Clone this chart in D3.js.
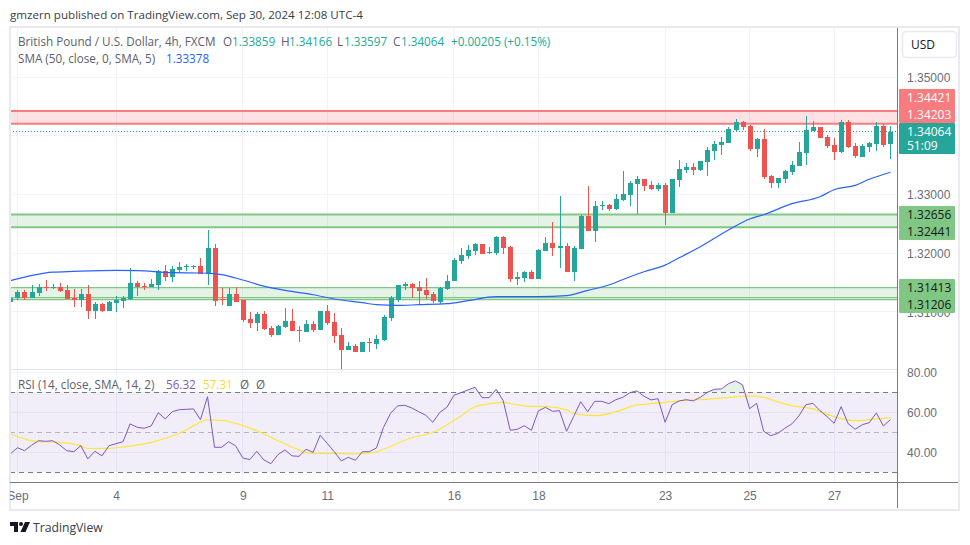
<!DOCTYPE html>
<html>
<head>
<meta charset="utf-8">
<title>GBP/USD 4h</title>
<script src="https://cdn.jsdelivr.net/npm/d3@7"></script>
<style>
  html, body { margin: 0; padding: 0; background: #fff; }
  svg { display: block; font-family: "Open Sans", "Noto Sans", sans-serif; }
  .ax text { fill: #6a6d78; font-size: 12px; }
</style>
</head>
<body>
<div id="chart"></div>
<script>
// candles, oldest first
var opens = [1.31172,1.31235,1.31342,1.31235,1.31325,1.31428,1.31411,1.31428,1.31376,1.31235,1.31206,1.31308,1.31019,1.31138,1.31019,1.31155,1.31189,1.31223,1.31496,1.31445,1.31428,1.31462,1.31700,1.31598,1.31717,1.31768,1.31768,1.31785,1.31649,1.32092,
  1.31223,1.31104,1.31308,1.31194,1.30882,1.30814,1.30968,1.30729,1.30610,1.30746,1.30848,1.30695,1.30661,1.30797,1.30695,1.31019,1.30831,1.30610,1.30354,1.30422,1.30320,1.30491,1.30457,1.30525,1.30900,1.31206,1.31445,1.31479,1.31428,1.31376,
  1.31308,1.31172,1.31393,1.31518,1.31871,1.31956,1.32041,1.32160,1.32007,1.32007,1.32279,1.32109,1.31564,1.31581,1.31683,1.31564,1.32041,1.32177,1.32092,1.32126,1.31683,1.32075,1.32637,1.32382,1.32807,1.32825,1.32756,1.32910,1.32995,1.33182,
  1.33267,1.33165,1.33097,1.33165,1.32688,1.33250,1.33421,1.33472,1.33421,1.33557,1.33744,1.33847,1.33881,1.34102,1.34239,1.34170,1.33779,1.33949,1.33319,1.33199,1.33267,1.33387,1.33489,1.33710,1.34085,1.34153,1.33983,1.33847,1.33727,1.34239,
  1.33830,1.33642,1.33813,1.33864,1.34170,1.33859];
var highs = [1.31359,1.31376,1.31371,1.31462,1.31473,1.31542,1.31473,1.31496,1.31462,1.31393,1.31393,1.31462,1.31172,1.31155,1.31189,1.31274,1.31274,1.31751,1.31530,1.31496,1.31564,1.31717,1.31802,1.31785,1.31853,1.31819,1.31802,1.31922,1.32399,1.32160,
  1.31405,1.31405,1.31428,1.31194,1.31002,1.31002,1.31019,1.30763,1.30780,1.31070,1.31053,1.30763,1.30865,1.30848,1.31019,1.31121,1.30985,1.30729,1.30491,1.30457,1.30491,1.30559,1.30610,1.30951,1.31274,1.31462,1.31513,1.31496,1.31530,1.31581,
  1.31342,1.31428,1.31632,1.31916,1.32087,1.32143,1.32177,1.32160,1.32109,1.32296,1.32296,1.32126,1.31683,1.31700,1.31717,1.32075,1.32279,1.32535,1.32978,1.32177,1.32126,1.32654,1.33148,1.32893,1.32893,1.32842,1.33012,1.33404,1.33233,1.33319,
  1.33267,1.33233,1.33199,1.33199,1.33267,1.33591,1.33540,1.33540,1.33574,1.33813,1.33915,1.33983,1.34153,1.34290,1.34256,1.34187,1.33966,1.34119,1.33336,1.33284,1.33421,1.33574,1.33898,1.34341,1.34256,1.34153,1.34017,1.33966,1.34273,1.34273,
  1.33881,1.33864,1.33898,1.34239,1.34204,1.34166];
var lows = [1.31121,1.31201,1.31201,1.31228,1.31274,1.31359,1.31393,1.31342,1.31223,1.31087,1.31087,1.30882,1.30882,1.31002,1.31019,1.31002,1.31070,1.31201,1.31274,1.31376,1.31428,1.31376,1.31530,1.31513,1.31666,1.31700,1.31734,1.31649,1.31462,1.31104,
  1.31121,1.31104,1.31172,1.30831,1.30729,1.30678,1.30695,1.30576,1.30610,1.30729,1.30678,1.30491,1.30661,1.30661,1.30695,1.30780,1.30474,1.30014,1.30354,1.30320,1.30320,1.30320,1.30371,1.30508,1.30848,1.31172,1.31376,1.31240,1.31138,1.31223,
  1.31155,1.31138,1.31376,1.31518,1.31819,1.31905,1.31973,1.31990,1.31990,1.31973,1.31990,1.31513,1.31462,1.31513,1.31564,1.31564,1.32041,1.31956,1.31751,1.31683,1.31530,1.32075,1.32382,1.32194,1.32739,1.32722,1.32739,1.32893,1.32807,1.32671,
  1.33063,1.33080,1.33063,1.32484,1.32688,1.33131,1.33370,1.33336,1.33404,1.33319,1.33591,1.33676,1.33881,1.34085,1.34102,1.33744,1.33642,1.33267,1.33114,1.33114,1.33199,1.33336,1.33489,1.33506,1.34085,1.33966,1.33796,1.33591,1.33710,1.33796,
  1.33625,1.33642,1.33727,1.33744,1.33813,1.33597];
var closes = [1.31228,1.31342,1.31235,1.31342,1.31428,1.31411,1.31428,1.31359,1.31223,1.31206,1.31308,1.31019,1.31138,1.31019,1.31172,1.31206,1.31240,1.31496,1.31428,1.31428,1.31479,1.31700,1.31598,1.31734,1.31768,1.31780,1.31780,1.31649,1.32092,1.31189,
  1.31206,1.31308,1.31172,1.30865,1.30814,1.30968,1.30712,1.30610,1.30763,1.30848,1.30678,1.30678,1.30797,1.30695,1.31019,1.30814,1.30593,1.30354,1.30422,1.30320,1.30491,1.30474,1.30542,1.30917,1.31240,1.31462,1.31479,1.31411,1.31359,1.31291,
  1.31189,1.31411,1.31530,1.31888,1.31973,1.32058,1.32160,1.31990,1.32024,1.32279,1.32092,1.31564,1.31598,1.31683,1.31564,1.32058,1.32177,1.32092,1.32126,1.31683,1.32092,1.32637,1.32382,1.32807,1.32825,1.32756,1.32927,1.33012,1.33199,1.33267,
  1.33148,1.33097,1.33165,1.32688,1.33267,1.33438,1.33472,1.33421,1.33574,1.33761,1.33864,1.33898,1.34119,1.34239,1.34153,1.33779,1.33949,1.33301,1.33199,1.33284,1.33404,1.33506,1.33727,1.34102,1.34153,1.33966,1.33830,1.33727,1.34239,1.33813,
  1.33659,1.33830,1.33881,1.34170,1.33847,1.34064];

// SMA 50 read at some bars
var smaBars = [0,6,9,15,18,23,27,29,30,33,36,40,43,46,50,52,55,58,62,65,69,75,79,82,85,88,90,93,95,98,100,102,105,107,111,115,117,120,122,125];
var smaValues = [1.31530,1.31675,1.31688,1.31705,1.31700,1.31666,1.31661,1.31649,1.31632,1.31542,1.31436,1.31348,1.31291,1.31218,1.31155,1.31121,1.31109,1.31121,1.31138,1.31189,1.31257,1.31257,1.31274,1.31365,1.31457,1.31598,1.31683,1.31795,1.31920,1.32109,1.32253,1.32393,1.32581,1.32654,1.32842,1.32961,1.33080,1.33153,1.33258,1.33378];

// RSI one value per bar
var rsiValues = [39.2,42.3,40.8,43.5,45.8,45.5,45.8,43.7,40.8,40.3,43.3,36.7,40.5,38.2,43.3,44.3,45.3,54.2,52.5,52,53.2,59.8,56.7,60.3,61.3,61.5,61.7,56.3,67.8,42.5,42.5,45.3,43.2,37.2,36.3,40.5,36.2,34.3,38.8,41.2,38.2,38,
  41.5,40,48.5,44.5,40.3,35.7,37.5,36,40.3,40.3,42.2,52.5,59.5,63.2,63.5,62.2,60.3,58.5,55,60,62.5,68.5,69.8,71.2,72.5,67.3,67.3,71.5,65.8,51,51.5,53.3,51,60.7,62.5,60.5,60.8,50.5,57.8,65.3,60.3,65.5,
  65.5,64.3,66.3,67.5,69.8,70.7,68,66.2,66.8,55,63.8,65.7,66.3,65.7,67.5,70,71.5,71.7,74.3,75.7,73.7,61.8,64.5,50.5,48.3,49.5,52,54.2,58.2,63.8,64.5,60.8,57.8,54.5,62.8,54.3,51.5,53.8,54.8,59.7,53.2,56.32];

// RSI moving average read at some bars
var maBars = [0,4,6,10,11,14,16,20,24,26,28,30,32,35,38,41,42,43,46,49,52,53,57,60,62,64,66,68,70,72,74,76,79,80,83,86,89,91,93,96,99,103,105,107,109,111,114,117,120,122,125];
var maValues = [49.3,45.3,45.2,43.3,41.9,42,42.7,45,49.5,53.2,56.2,56,54.5,50.8,45.8,41.2,40,39.5,39.5,39.2,40.2,41.5,47.3,50,53.7,58.2,62.8,64.2,65,63.7,63,63,61.2,59.5,58.3,60.3,63.7,64.3,65,66,66.5,67.7,68.2,67.5,65.2,63.3,61.7,57.8,55.8,56.3,57.31];

// axis ticks
var priceTicks = [1.35, 1.34, 1.33, 1.32, 1.31];
var priceTickLabels = [1.35, 1.33, 1.32, 1.31];
var rsiTicks = [80, 60, 40];
var timeBars = [1, 15, 33, 45, 63, 75, 93, 105, 117];
var timeLabels = ['Sep', '4', '9', '11', '16', '18', '23', '25', '27'];

// drawn zones and their axis labels
var redZone = [1.34421, 1.34203];
var greenZone1 = [1.32656, 1.32441];
var greenZone2 = [1.31413, 1.31206];
var greenZone2Extra = 1.3124;
var lastClose = 1.34064;

var up = '#26a69a', down = '#ef5350', grid = '#f0f3fa', border = '#e8eaf0', axisCol = '#787b86';
var redLine = '#f77c80', greenLine = '#81c784';

var svg = d3.select('#chart').append('svg').attr('width', 970).attr('height', 545);

var x = d3.scaleLinear().domain([0, 125]).range([10.4, 890.4]);
var y = d3.scaleLinear().domain([1.35, 1.31]).range([77, 311.8]);
var r = d3.scaleLinear().domain([80, 40]).range([372.3, 452.3]);
var L = 10, R = 897;

svg.append('clipPath').attr('id', 'priceClip').append('rect')
    .attr('x', L).attr('y', 28).attr('width', R - L).attr('height', 341);
svg.append('clipPath').attr('id', 'rsiClip').append('rect')
    .attr('x', L).attr('y', 371).attr('width', R - L).attr('height', 111);
svg.append('clipPath').attr('id', 'timeClip').append('rect')
    .attr('x', L).attr('y', 483).attr('width', 948).attr('height', 26);

// grid
var gridG = svg.append('g').attr('shape-rendering', 'crispEdges').attr('stroke', grid);
gridG.selectAll('.h').data(priceTicks).join('line')
    .attr('x1', L).attr('x2', R).attr('y1', function (d) { return y(d); }).attr('y2', function (d) { return y(d); });
gridG.selectAll('.r').data(rsiTicks).join('line')
    .attr('x1', L).attr('x2', R).attr('y1', function (d) { return r(d); }).attr('y2', function (d) { return r(d); });
gridG.selectAll('.v').data(timeBars).join('line')
    .attr('x1', function (d) { return x(d); }).attr('x2', function (d) { return x(d); })
    .attr('y1', 28).attr('y2', 482);

// zones
var zones = svg.append('g').attr('clip-path', 'url(#priceClip)');
function zone(z, fill, col, w) {
    zones.append('rect').attr('x', L).attr('width', R - L)
        .attr('y', y(z[0])).attr('height', y(z[1]) - y(z[0])).attr('fill', fill);
    z.forEach(function (p) {
        zones.append('line').attr('x1', L).attr('x2', R).attr('y1', y(p)).attr('y2', y(p))
            .attr('stroke', col).attr('stroke-width', w);
    });
}
zone(redZone, 'rgba(242,54,69,0.15)', redLine, 2);
zone(greenZone1, 'rgba(76,175,80,0.15)', greenLine, 2);
zone(greenZone2, 'rgba(76,175,80,0.15)', greenLine, 1.2);
zones.append('line').attr('x1', L).attr('x2', R).attr('y1', y(greenZone2Extra)).attr('y2', y(greenZone2Extra))
    .attr('stroke', greenLine).attr('stroke-width', 1.2);
zones.append('line').attr('x1', L).attr('x2', R).attr('y1', y(lastClose)).attr('y2', y(lastClose))
    .attr('stroke', up).attr('stroke-width', 1).attr('stroke-dasharray', '1 2').attr('shape-rendering', 'crispEdges');

// candles
var candleG = svg.append('g').attr('clip-path', 'url(#priceClip)').attr('shape-rendering', 'crispEdges');
opens.forEach(function (o, i) {
    var c = closes[i], col = c >= o ? up : down, cx = Math.round(x(i));
    candleG.append('line').attr('x1', cx + 0.5).attr('x2', cx + 0.5)
        .attr('y1', y(highs[i])).attr('y2', y(lows[i])).attr('stroke', col);
    candleG.append('rect').attr('x', cx - 2).attr('width', 5)
        .attr('y', y(Math.max(o, c))).attr('height', Math.max(1, Math.abs(y(o) - y(c)))).attr('fill', col);
});

// SMA
var smaLine = d3.line().x(function (d) { return x(d); })
    .y(function (d, i) { return y(smaValues[i]); }).curve(d3.curveMonotoneX);
svg.append('path').attr('d', smaLine(smaBars)).attr('fill', 'none').attr('stroke', '#2962ff')
    .attr('stroke-width', 1.2).attr('clip-path', 'url(#priceClip)');

// RSI pane
var rsiG = svg.append('g').attr('clip-path', 'url(#rsiClip)');
rsiG.append('rect').attr('x', L).attr('width', R - L).attr('y', r(70)).attr('height', r(30) - r(70))
    .attr('fill', 'rgba(126,87,194,0.1)');
[[70, '#787b86'], [50, '#b2b5be'], [30, '#787b86']].forEach(function (b) {
    rsiG.append('line').attr('x1', L).attr('x2', R).attr('y1', r(b[0])).attr('y2', r(b[0]))
        .attr('stroke', b[1]).attr('stroke-dasharray', '5 4').attr('shape-rendering', 'crispEdges');
});
svg.append('clipPath').attr('id', 'over70').append('rect')
    .attr('x', L).attr('width', R - L).attr('y', 371).attr('height', r(70) - 371);
rsiG.append('path').attr('clip-path', 'url(#over70)').attr('fill', 'rgba(76,175,80,0.15)')
    .attr('d', d3.area().x(function (d, i) { return x(i); }).y0(r(70)).y1(function (d) { return r(d); })(rsiValues));
var maLine = d3.line().x(function (d) { return x(d); })
    .y(function (d, i) { return r(maValues[i]); }).curve(d3.curveMonotoneX);
rsiG.append('path').attr('d', maLine(maBars)).attr('fill', 'none').attr('stroke', '#ffe53b').attr('stroke-width', 1.2);
rsiG.append('path').attr('d', d3.line().x(function (d, i) { return x(i); }).y(function (d) { return r(d); })(rsiValues))
    .attr('fill', 'none').attr('stroke', '#7e57c2').attr('stroke-width', 1);

// frame
var frame = svg.append('g').attr('shape-rendering', 'crispEdges');
frame.append('rect').attr('x', 9.5).attr('y', 27).attr('width', 949).attr('height', 482.5)
    .attr('fill', 'none').attr('stroke', border).attr('stroke-width', 2);
frame.append('line').attr('x1', L).attr('x2', R).attr('y1', 369.5).attr('y2', 369.5).attr('stroke', '#e0e3eb').attr('stroke-width', 1.5);
frame.append('line').attr('x1', R + 0.5).attr('x2', R + 0.5).attr('y1', 28).attr('y2', 508).attr('stroke', axisCol);
frame.append('line').attr('x1', L).attr('x2', 958).attr('y1', 482.5).attr('y2', 482.5).attr('stroke', axisCol);

// axes
var priceAxis = d3.axisRight(y).tickValues(priceTickLabels).tickSize(0).tickPadding(10).tickFormat(d3.format('.5f'));
svg.append('g').attr('class', 'ax').attr('transform', 'translate(' + R + ',0.5)').call(priceAxis)
    .call(function (g) { g.select('.domain').remove(); });
var rsiAxis = d3.axisRight(r).tickValues(rsiTicks).tickSize(0).tickPadding(10).tickFormat(d3.format('.2f'));
svg.append('g').attr('class', 'ax').attr('transform', 'translate(' + R + ',0.5)').call(rsiAxis)
    .call(function (g) { g.select('.domain').remove(); });
var timeAxis = d3.axisBottom(x).tickValues(timeBars).tickSize(0).tickPadding(9)
    .tickFormat(function (d, i) { return timeLabels[i]; });
svg.append('g').attr('class', 'ax').attr('clip-path', 'url(#timeClip)').append('g')
    .attr('transform', 'translate(0,482)').call(timeAxis)
    .call(function (g) { g.select('.domain').remove(); });

// price tags on the axis
function tag(top, h, fill, rows) {
    svg.append('rect').attr('x', 899).attr('y', top).attr('width', 56).attr('height', h).attr('rx', 1).attr('fill', fill);
    rows.forEach(function (t) {
        svg.append('text').attr('x', 907).attr('y', t[1]).attr('font-size', 12).attr('fill', t[2]).text(t[0]);
    });
}
var f5 = d3.format('.5f');
tag(89, 34, redLine, [[f5(redZone[0]), 102, '#fff'], [f5(redZone[1]), 119, '#fff']]);
tag(123, 31, up, [[f5(lastClose), 136, '#fff'], ['51:09', 150, '#fff']]);
tag(206, 34, greenLine, [[f5(greenZone1[0]), 219, '#131722'], [f5(greenZone1[1]), 236, '#131722']]);
tag(279, 34, greenLine, [[f5(greenZone2[0]), 292, '#131722'], [f5(greenZone2[1]), 309, '#131722']]);

// USD button
svg.append('rect').attr('x', 902.5).attr('y', 31.5).attr('width', 54).attr('height', 26).attr('rx', 4)
    .attr('fill', '#fff').attr('stroke', '#e8eaf0').attr('stroke-width', 1.5);
svg.append('text').attr('x', 911).attr('y', 49).attr('font-size', 12).attr('fill', '#131722').text('USD');

// header and legends
var gray = '#5d606b', teal = '#22ab94';
function label(xp, yp, txt, col, size) {
    svg.append('text').attr('x', xp).attr('y', yp).attr('font-size', size || 11.7).attr('fill', col).text(txt);
}
label(10, 19, 'gmzern published on TradingView.com, Sep 30, 2024 12:08 UTC-4', '#3a3d47', 11.6);
label(18, 46, 'British Pound / U.S. Dollar, 4h, FXCM', gray);
label(223, 46, 'O', gray); label(232, 46, f5(opens[125]), teal);
label(281, 46, 'H', gray); label(289, 46, f5(highs[125]), teal);
label(337, 46, 'L', gray); label(344, 46, f5(lows[125]), teal);
label(393, 46, 'C', gray); label(401, 46, f5(closes[125]), teal);
label(451, 46, '+0.00205 (+0.15%)', teal);
label(18, 63, 'SMA (50, close, 0, SMA, 5)', gray);
label(166, 63, f5(smaValues[39]), '#2962ff');
label(18, 389, 'RSI (14, close, SMA, 14, 2)', gray);
label(166, 389, d3.format('.2f')(rsiValues[125]), '#7e57c2');
label(203, 389, d3.format('.2f')(maValues[50]), '#fdd835');
label(240, 389, 'Ø', gray); label(256, 389, 'Ø', gray);

// logo
var logo = svg.append('g').attr('transform', 'translate(10,522)').attr('fill', '#131722');
logo.append('path').attr('d', 'M0 0H8V10H4V4H0Z');
logo.append('circle').attr('cx', 11).attr('cy', 2).attr('r', 2);
logo.append('path').attr('d', 'M15 0H20L15.5 10H10.5Z');
label(33, 532, 'TradingView', '#3a3d47', 12.2);
</script>
</body>
</html>
